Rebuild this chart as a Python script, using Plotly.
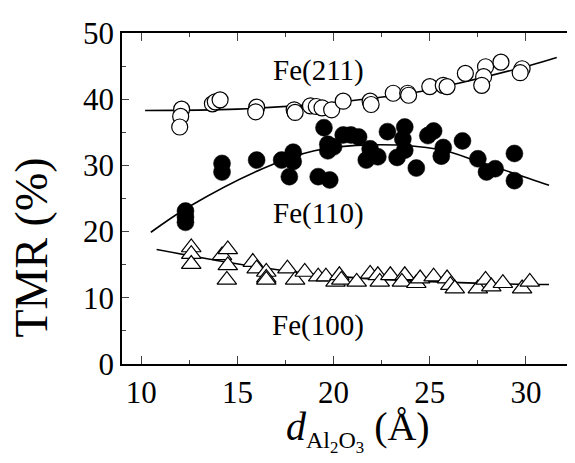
import plotly.graph_objects as go

# Fe(211) open circles
fe211_x = [12.1, 12.05, 12.0, 13.7, 13.85, 14.1, 16.0, 15.95, 17.95, 18.0, 18.8, 19.1, 19.4, 19.9, 20.5,
           21.9, 21.95, 23.1, 23.85, 23.9, 25.0, 25.7, 25.9, 26.85, 27.9, 27.8, 27.7, 28.7, 29.8, 29.7]
fe211_y = [38.5, 37.4, 35.8, 39.3, 39.6, 39.9, 38.8, 38.1, 38.4, 38.0, 39.0, 38.9, 38.7, 38.4, 39.7,
           39.7, 39.2, 40.9, 40.9, 40.6, 41.9, 42.1, 41.9, 43.9, 44.9, 43.4, 42.1, 45.6, 44.6, 44.0]

# Fe(110) filled circles
fe110_x = [12.3, 12.3, 12.3, 14.2, 14.2, 16.0, 17.3, 17.9, 17.9, 17.7, 19.2, 19.8, 19.5, 19.7, 19.7, 20.5, 20.0,
           20.9, 21.3, 21.9, 21.7, 22.3, 22.8, 23.7, 23.6, 23.7, 23.3, 24.3, 24.9, 25.2, 25.7, 25.6,
           26.7, 27.5, 27.95, 28.4, 29.4, 29.4]
fe110_y = [23.1, 22.2, 21.4, 30.3, 29.0, 30.8, 30.8, 32.0, 30.6, 28.3, 28.3, 27.8, 35.7, 33.2, 32.2, 34.6, 32.8,
           34.6, 34.3, 32.5, 30.8, 31.3, 35.1, 35.8, 34.0, 32.3, 31.2, 29.6, 34.5, 35.2, 32.7, 31.4,
           33.7, 31.0, 29.0, 29.5, 31.8, 27.7]

# Fe(100) open triangles
fe100_x = [12.6, 12.6, 12.6, 14.2, 14.5, 14.5, 14.45, 15.8, 16.0, 16.5, 16.5, 16.5, 17.6, 18.0, 18.5, 19.2,
           19.6, 20.1, 20.3, 20.4, 21.2, 21.9, 22.3, 22.4, 22.95, 23.7, 23.55, 24.3, 24.5, 25.2, 25.9,
           26.07, 26.3, 27.5, 27.9, 28.2, 28.8, 29.8, 30.2]
fe100_y = [17.6, 16.6, 15.1, 16.4, 17.3, 14.9, 12.7, 15.4, 14.4, 13.9, 13.0, 12.7, 14.4, 12.7, 13.9, 13.2,
           13.2, 12.4, 13.4, 12.7, 12.4, 13.6, 13.4, 12.4, 13.4, 13.4, 12.4, 12.2, 12.9, 13.2, 12.9,
           11.9, 11.4, 11.4, 12.7, 11.7, 12.2, 11.4, 12.4]

# Fitted guide curves
fit211_x = [10.2, 15.0, 20.0, 24.6, 26.5, 30.2, 31.6]
fit211_y = [38.3, 38.5, 39.5, 41.2, 42.4, 45.1, 46.3]
fit110_x = [10.5, 12.5, 16.3, 19.0, 22.0, 25.5, 27.6, 30.2, 31.2]
fit110_y = [19.9, 23.8, 29.5, 32.2, 33.1, 32.4, 30.5, 28.0, 27.0]
fit100_x = [10.8, 13.8, 15.7, 20.3, 27.5, 31.2]
fit100_y = [17.3, 15.7, 14.8, 13.2, 12.2, 12.0]

labels = ["Fe(211)", "Fe(110)", "Fe(100)"]
label_x = [19.2, 19.2, 19.2]
label_y = [44.4, 22.7, 5.8]

FONT = "Liberation Serif"

fig = go.Figure()
for fx, fy in [(fit211_x, fit211_y), (fit110_x, fit110_y), (fit100_x, fit100_y)]:
    fig.add_trace(go.Scatter(x=fx, y=fy, mode="lines", line=dict(color="black", width=1.6, shape="spline"),
                             showlegend=False, hoverinfo="skip"))

fig.add_trace(go.Scatter(x=fe211_x, y=fe211_y, mode="markers", showlegend=False,
                         marker=dict(symbol="circle", size=16, color="white", line=dict(color="black", width=1.2))))
fig.add_trace(go.Scatter(x=fe110_x, y=fe110_y, mode="markers", showlegend=False,
                         marker=dict(symbol="circle", size=17, color="black", line=dict(color="black", width=0.5))))
fig.add_trace(go.Scatter(x=fe100_x, y=fe100_y, mode="markers", showlegend=False,
                         marker=dict(symbol="triangle-up", size=17, color="white", line=dict(color="black", width=1.2))))

for t, x, y in zip(labels, label_x, label_y):
    fig.add_annotation(x=x, y=y, text=t, showarrow=False, font=dict(family=FONT, size=29, color="black"),
                       xanchor="center", yanchor="middle")

# plot area: 453 x 337 px
fig.add_annotation(xref="paper", yref="paper", x=-0.2, y=0.353, text="TMR (%)", textangle=-90,
                   showarrow=False, font=dict(family=FONT, size=46, color="black"),
                   xanchor="center", yanchor="middle")
fig.add_annotation(xref="paper", yref="paper", x=0.52, y=-0.2,
                   text="<i>d</i><sub><span style='font-size:24px'>Al<sub>2</sub>O<sub>3</sub></span></sub> (Å)",
                   showarrow=False, font=dict(family=FONT, size=40, color="black"),
                   xanchor="center", yanchor="middle")

fig.update_layout(
    width=575, height=463,
    margin=dict(l=114, r=8, t=19, b=107),
    paper_bgcolor="white", plot_bgcolor="white",
    font=dict(family=FONT, color="black"),
)
fig.update_xaxes(range=[9.0, 32.55], tick0=0, dtick=5, ticks="inside", ticklen=8, tickwidth=1.3,
                 showline=True, linewidth=1.8, linecolor="black", mirror="ticks", showgrid=False, zeroline=False,
                 tickfont=dict(family=FONT, size=31, color="black"),
                 minor=dict(dtick=2.5, tick0=0, ticks="inside", ticklen=4, tickwidth=1.2, showgrid=False))
fig.update_yaxes(range=[0, 50], tick0=0, dtick=10, ticks="inside", ticklen=7, tickwidth=1.3,
                 showline=True, linewidth=1.8, linecolor="black", showgrid=False, zeroline=False,
                 tickfont=dict(family=FONT, size=31, color="black"),
                 minor=dict(dtick=5, tick0=0, ticks="inside", ticklen=4, tickwidth=1.2, showgrid=False))

fig.write_html("out.html")
